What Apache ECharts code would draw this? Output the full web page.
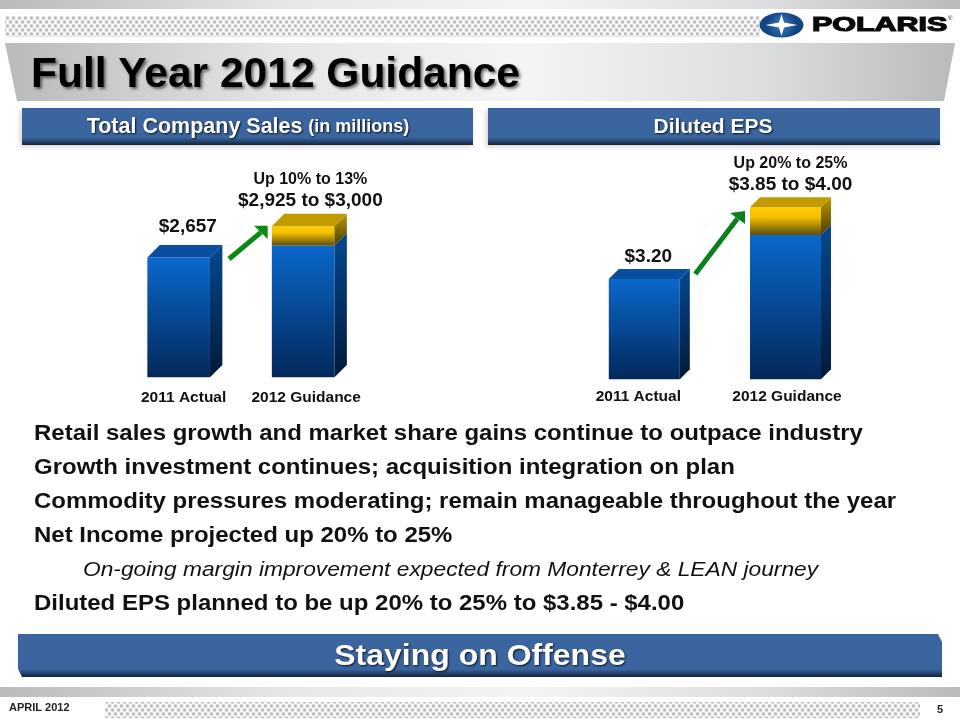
<!DOCTYPE html>
<html>
<head>
<meta charset="utf-8">
<script src="https://cdn.jsdelivr.net/npm/echarts@6/dist/echarts.min.js"></script>
<style>html,body{margin:0;padding:0;background:#fff}#chart{width:960px;height:720px}</style>
</head>
<body>
<div id="chart"></div>
<script>
const FONT = '"Liberation Sans", Arial, sans-serif';

const categories = ['2011 Actual', '2012 Guidance'];

// Sales in $M. The gold band is drawn well taller than the real 75 spread on the slide
const salesBase = [2657, 2925];
const salesBand = [0, 425];
const salesLabels = ['$2,657', '$2,925 to $3,000'];
const salesNotes = ['', 'Up 10% to 13%'];

// EPS, slide axis is truncated and the band is exaggerated here too
const epsBase = [3.20, 3.85];
const epsBand = [0, 0.41];
const epsLabels = ['$3.20', '$3.85 to $4.00'];
const epsNotes = ['', 'Up 20% to 25%'];

const bullets = [
    'Retail sales growth and market share gains continue to outpace industry',
    'Growth investment continues; acquisition integration on plan',
    'Commodity pressures moderating; remain manageable throughout the year',
    'Net Income projected up 20% to 25%',
    'On-going margin improvement expected from Monterrey & LEAN journey',
    'Diluted EPS planned to be up 20% to 25% to $3.85 - $4.00'
];

const chart = echarts.init(document.getElementById('chart'), null, { renderer: 'canvas' });

const vGrad = (top, bottom) => new echarts.graphic.LinearGradient(0, 0, 0, 1, [
    { offset: 0, color: top }, { offset: 1, color: bottom }
]);
const silver = () => new echarts.graphic.LinearGradient(0, 0, 1, 0, [
    { offset: 0, color: '#b9babc' }, { offset: 0.3, color: '#e6e7e8' }, { offset: 0.55, color: '#f4f4f4' },
    { offset: 0.8, color: '#dcddde' }, { offset: 1, color: '#b9babc' }
]);

// Dot screen used in the header and footer strips
function dotPattern() {
    const c = document.createElement('canvas');
    c.width = 6;
    c.height = 8;
    const g = c.getContext('2d');
    g.fillStyle = '#f6f6f6';
    g.fillRect(0, 0, 6, 8);
    g.fillStyle = '#bfbfbf';
    [[1.5, 2], [4.5, 6]].forEach(p => {
        g.beginPath();
        g.arc(p[0], p[1], 1.7, 0, Math.PI * 2);
        g.fill();
    });
    return { image: c, repeat: 'repeat' };
}

function starPoints(cx, cy, rx, ry, r) {
    return [[cx, cy - ry], [cx + r, cy - r], [cx + rx, cy], [cx + r, cy + r],
        [cx, cy + ry], [cx - r, cy + r], [cx - rx, cy], [cx - r, cy - r]];
}

function barRenderer(depth, labels, notes, labelGaps, labelShift) {
    return (params, api) => {
        const i = api.value(0);
        const base = api.coord([i, 0]);
        const y0 = params.coordSys.y + params.coordSys.height;
        const w = api.size([1, 0])[0] * 0.503;
        const x0 = base[0] - w / 2;
        const x1 = x0 + w;
        const yBlue = api.coord([i, api.value(1)])[1];
        const yGold = api.coord([i, api.value(1) + api.value(2)])[1];
        const yTop = Math.min(yBlue, yGold);
        const poly = (points, fill) => ({ type: 'polygon', shape: { points }, style: { fill } });
        const kids = [];
        // front and side of the blue block
        kids.push(poly([[x0, yBlue], [x1, yBlue], [x1, y0], [x0, y0]], vGrad('#0a68cc', '#03285a')));
        kids.push(poly([[x1, yBlue], [x1 + depth, yBlue - depth], [x1 + depth, y0 - depth], [x1, y0]],
            vGrad('#04488f', '#02193a')));
        if (api.value(2) > 0) {
            kids.push(poly([[x0, yGold], [x1, yGold], [x1, yBlue], [x0, yBlue]], new echarts.graphic.LinearGradient(0, 0, 0, 1, [
                { offset: 0, color: '#ffcc00' }, { offset: 0.35, color: '#f2c000' }, { offset: 1, color: '#5f4c10' }
            ])));
            kids.push(poly([[x1, yGold], [x1 + depth, yGold - depth], [x1 + depth, yBlue - depth], [x1, yBlue]],
                vGrad('#bd9800', '#4a3c08')));
            kids.push(poly([[x0, yGold], [x0 + depth, yGold - depth], [x1 + depth, yGold - depth], [x1, yGold]], '#c29b00'));
        } else {
            kids.push(poly([[x0, yBlue], [x0 + depth, yBlue - depth], [x1 + depth, yBlue - depth], [x1, yBlue]], '#0a4f9f'));
        }
        const cx = base[0] + depth / 2 + labelShift[i];
        const capY = yTop - depth - labelGaps[i];
        kids.push({
            type: 'text',
            style: { text: labels[i], x: cx, y: capY, font: 'bold 19px ' + FONT, fill: '#111', align: 'center', verticalAlign: 'middle' }
        });
        if (notes[i]) {
            kids.push({
                type: 'text',
                style: { text: notes[i], x: cx, y: capY - 21, font: 'bold 16px ' + FONT, fill: '#111', align: 'center', verticalAlign: 'middle' }
            });
        }
        return { type: 'group', children: kids };
    };
}

function arrow(x0, y0, tip, c1, c2, color) {
    return [
        { type: 'line', z: 5, shape: { x1: x0, y1: y0, x2: (c1[0] + c2[0]) / 2, y2: (c1[1] + c2[1]) / 2 }, style: { stroke: color, lineWidth: 5 } },
        { type: 'polygon', z: 5, shape: { points: [tip, c1, c2] }, style: { fill: color } }
    ];
}

const whiteShadow = { textShadowColor: 'rgba(0,0,0,0.8)', textShadowBlur: 2, textShadowOffsetX: 1, textShadowOffsetY: 1 };

function whiteText(text, x, y, font, extra) {
    return {
        type: 'text', z: 4,
        style: Object.assign({ text, x, y, font, fill: '#fff', align: 'center', verticalAlign: 'middle' }, whiteShadow, extra || {})
    };
}

function headerBar(x, w) {
    return {
        type: 'rect', z: 3, shape: { x, y: 108, width: w, height: 37 },
        style: {
            fill: new echarts.graphic.LinearGradient(0, 0, 0, 1, [
                { offset: 0, color: '#3a659f' }, { offset: 0.8, color: '#3a659f' }, { offset: 1, color: '#12233f' }
            ]),
            shadowColor: 'rgba(120,110,90,0.3)', shadowBlur: 5, shadowOffsetX: -2, shadowOffsetY: 2
        }
    };
}

const graphics = [
    // header strips
    { type: 'rect', z: 1, shape: { x: 0, y: 0, width: 960, height: 9 }, style: { fill: silver() } },
    { type: 'rect', z: 1, shape: { x: 5, y: 16, width: 755, height: 21 }, style: { fill: dotPattern() } },
    { type: 'polygon', z: 2, shape: { points: [[5, 43], [955, 43], [944, 101], [17, 101]] }, style: { fill: silver() } },
    {
        type: 'text', z: 3,
        style: {
            text: 'Full Year 2012 Guidance', x: 31, y: 75.5, font: 'bold 42.5px ' + FONT, fill: '#000', verticalAlign: 'middle',
            textShadowColor: 'rgba(0,0,0,0.55)', textShadowBlur: 3, textShadowOffsetX: 2, textShadowOffsetY: 2
        }
    },
    // logo
    {
        type: 'ellipse', z: 3, shape: { cx: 781.5, cy: 25, rx: 22, ry: 12.5 },
        style: {
            fill: new echarts.graphic.RadialGradient(0.5, 0.5, 0.6, [
                { offset: 0, color: '#3b7fc4' }, { offset: 1, color: '#134483' }
            ])
        }
    },
    { type: 'polygon', z: 4, shape: { points: starPoints(781.5, 25, 16, 11, 2.5) }, style: { fill: '#fff' } },
    {
        type: 'text', z: 3, x: 812, y: 25, scaleX: 1.45,
        style: { text: 'POLARIS', x: 0, y: 0, font: 'bold 21px ' + FONT, fill: '#0a0a0a', stroke: '#0a0a0a', lineWidth: 1.2, verticalAlign: 'middle' }
    },
    { type: 'polygon', z: 4, shape: { points: starPoints(845.5, 25, 5, 5, 1.3) }, style: { fill: '#fff' } },
    { type: 'text', z: 3, style: { text: '®', x: 948, y: 18, font: '6px ' + FONT, fill: '#222', verticalAlign: 'middle' } },

    // section heads
    headerBar(22, 451),
    headerBar(488, 452),
    whiteText('{a|Total Company Sales} {b|(in millions)}', 248, 127, 'bold 21px ' + FONT, {
        rich: {
            a: Object.assign({ font: 'bold 21.5px ' + FONT, fill: '#fff' }, whiteShadow),
            b: Object.assign({ font: 'bold 18px ' + FONT, fill: '#fff' }, whiteShadow)
        }
    }),
    whiteText('Diluted EPS', 713, 127, 'bold 21px ' + FONT),

    // closing banner
    {
        type: 'polygon', z: 3,
        shape: { points: [[18, 634], [938, 634], [942, 642], [942, 677], [22, 677], [18, 669]] },
        style: {
            fill: new echarts.graphic.LinearGradient(0, 0, 0, 1, [
                { offset: 0, color: '#3a659f' }, { offset: 0.82, color: '#3a659f' }, { offset: 1, color: '#12233f' }
            ])
        }
    },
    Object.assign(whiteText('Staying on Offense', 0, 0, 'bold 30px ' + FONT), { x: 480, y: 657, scaleX: 1.066 }),

    // footer
    { type: 'rect', z: 1, shape: { x: 0, y: 687, width: 960, height: 10 }, style: { fill: silver() } },
    { type: 'rect', z: 1, shape: { x: 105, y: 702, width: 815, height: 16 }, style: { fill: dotPattern() } },
    { type: 'text', z: 3, style: { text: 'APRIL 2012', x: 9, y: 708, font: 'bold 11px ' + FONT, fill: '#222', verticalAlign: 'middle' } },
    { type: 'text', z: 3, style: { text: '5', x: 937, y: 710, font: 'bold 11px ' + FONT, fill: '#222', verticalAlign: 'middle' } }
];

arrow(229, 259, [267.7, 225.7], [254, 225.7], [267.7, 239], '#0a8a12').forEach(a => graphics.push(a));
arrow(695.3, 274, [745, 211], [730, 213], [745, 224], '#0b7f1b').forEach(a => graphics.push(a));

// Bullet lines, the fifth is the indented italic sub point. Slide text is stretched wider than the font
bullets.forEach((line, i) => {
    const sub = i === 4;
    graphics.push({
        type: 'text', z: 3, x: sub ? 83 : 34, y: 434 + i * 34, scaleX: sub ? 1.084 : 1.09,
        style: {
            text: line, x: 0, y: 0,
            font: (sub ? 'italic 21px ' : 'bold 22px ') + FONT, fill: '#111', verticalAlign: 'middle'
        }
    });
});

// Labels on the slide sit a few px off the bar centres, padding nudges them
const axisBase = (gridIndex, margin, paddings) => ({
    type: 'category', gridIndex,
    data: categories.map((value, i) => ({ value, textStyle: { padding: paddings[i] } })),
    axisLine: { show: false }, axisTick: { show: false },
    axisLabel: { interval: 0, margin, color: '#111', fontFamily: FONT, fontWeight: 'bold', fontSize: 15.5 }
});

const option = {
    animation: false,
    backgroundColor: '#fff',
    grid: [
        { left: 116.4, width: 249, top: 177.3, height: 200 },
        { left: 573.7, width: 282.4, top: 179.3, height: 200 }
    ],
    xAxis: [
        axisBase(0, 12, [[0, 0, 0, 10], [0, 0, 0, 6]]),
        axisBase(1, 9, [[0, 12, 0, 0], [0, 0, 0, 3]])
    ],
    yAxis: [
        { type: 'value', gridIndex: 0, show: false, min: 0, max: 4436 },
        { type: 'value', gridIndex: 1, show: false, min: 1.72, max: 4.674 }
    ],
    series: [
        {
            type: 'custom', xAxisIndex: 0, yAxisIndex: 0, clip: false,
            renderItem: barRenderer(12.4, salesLabels, salesNotes, [18, 13.5], [3, 1]),
            data: categories.map((c, i) => [i, salesBase[i], salesBand[i]])
        },
        {
            type: 'custom', xAxisIndex: 1, yAxisIndex: 1, clip: false,
            renderItem: barRenderer(10, epsLabels, epsNotes, [12, 13], [-1, 0]),
            data: categories.map((c, i) => [i, epsBase[i], epsBand[i]])
        }
    ],
    graphic: { elements: graphics }
};

chart.setOption(option);
</script>
</body>
</html>
